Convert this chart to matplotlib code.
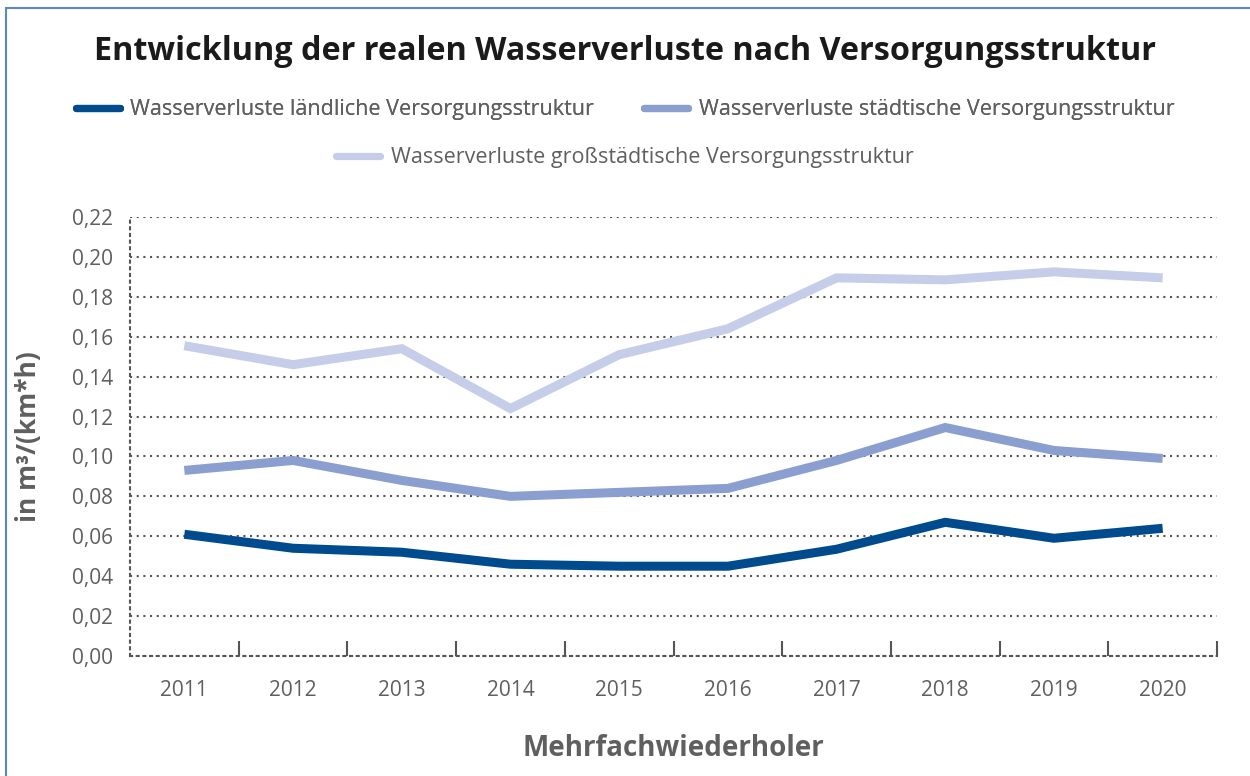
import matplotlib.pyplot as plt
from matplotlib.lines import Line2D
from matplotlib.patches import Rectangle
from matplotlib.ticker import FixedLocator

plt.rcParams["font.family"] = ["Open Sans", "DejaVu Sans"]

years = ["2011", "2012", "2013", "2014", "2015", "2016", "2017", "2018", "2019", "2020"]
laendlich = [0.061, 0.054, 0.052, 0.046, 0.045, 0.045, 0.0535, 0.067, 0.059, 0.064]
staedtisch = [0.093, 0.098, 0.088, 0.080, 0.082, 0.084, 0.098, 0.1145, 0.103, 0.099]
grossstaedtisch = [0.1555, 0.146, 0.154, 0.124, 0.151, 0.164, 0.1895, 0.1885, 0.1925, 0.1895]
labels = [
    "Wasserverluste ländliche Versorgungsstruktur",
    "Wasserverluste städtische Versorgungsstruktur",
    "Wasserverluste großstädtische Versorgungsstruktur",
]
colors = ["#004b8d", "#8a9fcf", "#c5cde8"]
grey = "#5f5f5f"

fig = plt.figure(figsize=(12.5, 7.76), dpi=100)
W, H = 1250, 776
ax = fig.add_axes([130 / W, 1 - 656 / H, (1217 - 130) / W, (656 - 217) / H])

x = range(len(years))
for vals, c, lab in zip([laendlich, staedtisch, grossstaedtisch], colors, labels):
    ax.plot(x, vals, color=c, lw=6.5, solid_joinstyle="miter", solid_capstyle="butt", label=lab)

ax.set_xlim(-0.5, len(years) - 0.5)
ax.set_ylim(0, 0.22)
ax.set_yticks([i * 0.02 for i in range(12)])
ax.set_yticklabels([f"{i * 0.02:.2f}".replace(".", ",") for i in range(12)])
ax.set_xticks(list(x))
ax.set_xticklabels(years)
ax.xaxis.set_minor_locator(FixedLocator([i + 0.5 for i in range(len(years))]))
ax.tick_params(axis="both", which="major", length=0, labelsize=15, labelcolor=grey)
ax.tick_params(axis="x", which="major", pad=17)
ax.tick_params(axis="y", which="major", pad=12)
ax.tick_params(axis="x", which="minor", direction="in", length=11, width=1.5, color="#555555")
for t in ax.xaxis.get_minorticklines():
    t.set_linestyle((0, (1, 1.6)))

ax.grid(axis="y", linestyle=(0, (1, 2.2)), color="#555555", lw=1.5)
ax.set_axisbelow(True)
for s in ["top", "right"]:
    ax.spines[s].set_visible(False)
for s in ["left", "bottom"]:
    ax.spines[s].set_linestyle((0, (1, 2.2)))
    ax.spines[s].set_color("#555555")
    ax.spines[s].set_linewidth(1.5)

ax.set_ylabel("in m³/(km*h)", fontsize=19, fontweight="bold", color=grey, labelpad=22)
ax.set_xlabel("Mehrfachwiederholer", fontsize=20, fontweight="bold", color=grey, labelpad=24)

fig.text(0.5, 1 - 52 / H, "Entwicklung der realen Wasserverluste nach Versorgungsstruktur",
         ha="center", va="center", fontsize=23.3, fontweight="bold", color="#1a1a1a")

handles = [Line2D([], [], color=c, lw=5.2, solid_capstyle="round") for c in colors]
leg1 = fig.legend(handles[:2], labels[:2], loc="center", bbox_to_anchor=(0.5, 1 - 110 / H),
                  ncol=2, frameon=False, fontsize=15.5, labelcolor=grey,
                  handlelength=2.05, handletextpad=0.5, columnspacing=2.3)
fig.add_artist(leg1)
fig.legend(handles[2:], labels[2:], loc="center", bbox_to_anchor=(0.5, 1 - 158 / H),
           frameon=False, fontsize=15.5, labelcolor=grey,
           handlelength=2.05, handletextpad=0.5)

fig.patches.append(Rectangle((6 / W, -0.1), 1.2, 1 - 8 / H + 0.1, transform=fig.transFigure,
                             fill=False, edgecolor="#5b87c5", lw=1.5))

fig.savefig("out.png", dpi=100)
